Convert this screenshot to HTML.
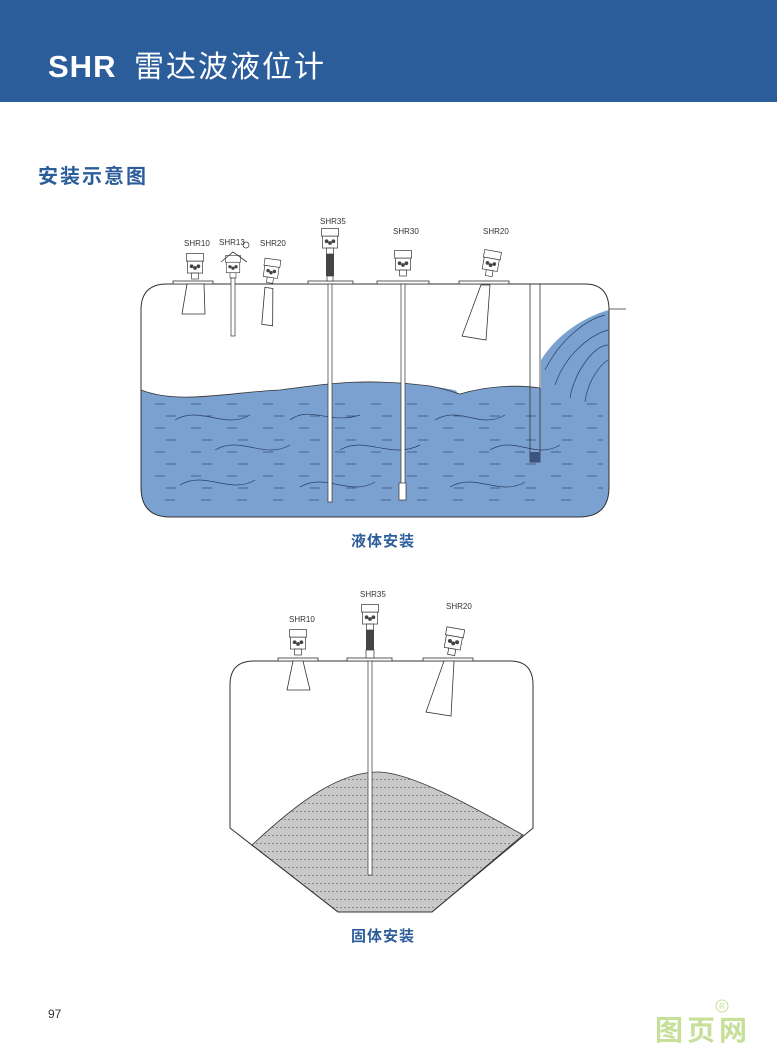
<!DOCTYPE html>
<html><head><meta charset="utf-8"><style>
html,body{margin:0;padding:0;background:#fff;}
body{width:777px;height:1061px;position:relative;overflow:hidden;font-family:"Liberation Sans","Noto Sans CJK SC",sans-serif;}
</style></head><body>
<svg width="777" height="1061" viewBox="0 0 777 1061" xmlns="http://www.w3.org/2000/svg" style="position:absolute;left:0;top:0">
<defs>
<pattern id="dots" width="4" height="8" patternUnits="userSpaceOnUse"><rect width="4" height="8" fill="#c9c9c9"/><rect x="0" y="3" width="2" height="1" fill="#8a8a8a"/></pattern>
<g id="sensor">
 <rect x="-10" y="-30" width="20" height="9" fill="#fff" stroke="#333" stroke-width="0.8"/>
 <rect x="-9" y="-21" width="18" height="14" fill="#fff" stroke="#333" stroke-width="0.8"/>
 <circle cx="-4" cy="-15" r="2.2" fill="#444"/><circle cx="0" cy="-13" r="2.2" fill="#444"/><circle cx="4" cy="-15" r="2.2" fill="#444"/>
 <rect x="-4" y="-7" width="8" height="7" fill="#fff" stroke="#333" stroke-width="0.8"/>
</g>
</defs>
<rect x="0" y="0" width="777" height="102" fill="#2c5d9b"/>
<text x="48" y="77" font-family="Liberation Sans, sans-serif" font-weight="bold" font-size="31" fill="#fff" letter-spacing="1">SHR</text>
<text x="134" y="77" font-family="Liberation Sans, Noto Sans CJK SC, sans-serif" font-size="30" fill="#fff" letter-spacing="2">雷达波液位计</text>
<text x="38" y="183" font-family="Liberation Sans, Noto Sans CJK SC, sans-serif" font-weight="bold" font-size="20" fill="#2c5d9b" letter-spacing="2">安装示意图</text>

<!-- Tank 1 liquid -->
<path d="M141 390 C180 405 230 392 280 390 C320 385 360 377 430 386 C470 392 450 390 460 394 C490 385 520 385 540 388 C560 392 590 384 609 388 L609 487 Q609 517 579 517 L170 517 Q141 517 141 487 Z" fill="#7ba1d0"/>
<path d="M541 360 C560 330 590 315 609 310 L609 392 C590 386 560 392 541 392 Z" fill="#7ba1d0"/>
<path d="M141 390 C180 405 230 392 280 390 C320 385 360 377 430 386 C450 390 455 393 460 394 C490 385 520 385 540 388" fill="none" stroke="#333" stroke-width="0.8"/>
<g stroke="#2a3f66" stroke-width="0.7" fill="none">
<path d="M175 420 C200 405 225 430 250 415"/><path d="M290 420 C310 405 330 425 360 415"/><path d="M435 420 C460 405 480 430 505 415"/>
<path d="M215 450 C240 435 265 460 290 445"/><path d="M340 450 C365 435 390 460 420 445"/><path d="M490 450 C515 435 535 460 560 445"/>
<path d="M180 485 C205 470 230 495 255 480"/><path d="M300 487 C325 472 350 497 375 482"/><path d="M450 487 C475 472 500 497 525 482"/>
<path d="M545 370 C560 340 585 320 605 315"/><path d="M555 385 C565 355 590 335 608 330"/><path d="M570 398 C575 370 595 345 608 345"/><path d="M585 402 C588 380 600 365 608 360"/>
</g>
<g stroke="#3a4f74" stroke-width="0.8">
<path d="M155 404h450" stroke-dasharray="10 26"/>
<path d="M148 416h455" stroke-dasharray="10 26" stroke-dashoffset="-18"/>
<path d="M155 428h450" stroke-dasharray="10 26"/>
<path d="M148 440h455" stroke-dasharray="10 26" stroke-dashoffset="-18"/>
<path d="M155 452h450" stroke-dasharray="10 26"/>
<path d="M148 464h455" stroke-dasharray="10 26" stroke-dashoffset="-18"/>
<path d="M155 476h450" stroke-dasharray="10 26"/>
<path d="M148 488h455" stroke-dasharray="10 26" stroke-dashoffset="-18"/>
<path d="M165 500h430" stroke-dasharray="10 26"/>
</g>
<!-- tank 1 outline -->
<path d="M141 390 L141 310 Q141 284 167 284 L585 284 Q609 284 609 310 L609 487 Q609 517 579 517 L170 517 Q141 517 141 487 Z" fill="none" stroke="#333" stroke-width="1"/>
<line x1="609" y1="309" x2="626" y2="309" stroke="#333" stroke-width="0.8"/>
<rect x="530" y="284" width="10" height="178" fill="none" stroke="#333" stroke-width="0.8"/>
<rect x="530" y="452" width="10" height="10" fill="#3c5580"/>
<g fill="#fff" stroke="#333" stroke-width="0.8">
<rect x="173" y="281" width="40" height="3"/><rect x="308" y="281" width="45" height="3"/><rect x="377" y="281" width="52" height="3"/><rect x="459" y="281" width="50" height="3"/>
</g>
<use href="#sensor" transform="translate(195 279) scale(0.85)"/>
<path d="M187 284 L195 284 L204 284 L205 314 L182 314 Z" fill="#fff" stroke="#333" stroke-width="0.8"/>
<use href="#sensor" transform="translate(233 278) scale(0.75)"/>
<path d="M221 262 L233 252 L247 262" fill="none" stroke="#333" stroke-width="0.8"/>
<circle cx="246" cy="245" r="3" fill="none" stroke="#333" stroke-width="0.7"/>
<rect x="231" y="278" width="4" height="58" fill="#fff" stroke="#333" stroke-width="0.7"/>
<g transform="rotate(8 270 280)"><use href="#sensor" transform="translate(270 283) scale(0.8)"/>
<path d="M266 288 L274 288 L279 325 L268 325 Z" fill="#fff" stroke="#333" stroke-width="0.8"/></g>
<use href="#sensor" transform="translate(330 254) scale(0.85)"/>
<rect x="326" y="254" width="8" height="22" fill="#444"/>
<rect x="327" y="276" width="6" height="5" fill="#fff" stroke="#333" stroke-width="0.7"/>
<rect x="328" y="284" width="4" height="218" fill="#fff" stroke="#333" stroke-width="0.7"/>
<use href="#sensor" transform="translate(403 276) scale(0.85)"/>
<rect x="401" y="284" width="4" height="200" fill="#fff" stroke="#333" stroke-width="0.7"/>
<rect x="399" y="483" width="7" height="17" fill="#fff" stroke="#333" stroke-width="0.7"/>
<g transform="rotate(10 488 280)"><use href="#sensor" transform="translate(488 276) scale(0.85)"/></g>
<path d="M481 285 L490 285 L486 340 L462 336 Z" fill="#fff" stroke="#333" stroke-width="0.8"/>
<g font-family="Liberation Sans, sans-serif" font-size="8" fill="#333">
<text x="184" y="246">SHR10</text><text x="219" y="245">SHR13</text><text x="260" y="246">SHR20</text><text x="320" y="224">SHR35</text><text x="393" y="234">SHR30</text><text x="483" y="234">SHR20</text>
</g>
<text x="383" y="546" text-anchor="middle" font-family="Liberation Sans, Noto Sans CJK SC, sans-serif" font-weight="bold" font-size="15" fill="#2c5d9b" letter-spacing="1">液体安装</text>

<!-- Tank 2 -->
<path d="M252 845 C300 800 340 772 378 772 C410 772 470 805 523 835 L432 912 L338 912 Z" fill="url(#dots)" stroke="#333" stroke-width="0.8"/>
<path d="M230 828 L230 685 Q230 661 254 661 L510 661 Q533 661 533 685 L533 828 L432 912 L338 912 Z" fill="none" stroke="#333" stroke-width="1"/>
<g fill="#fff" stroke="#333" stroke-width="0.8">
<rect x="278" y="658" width="40" height="3"/><rect x="347" y="658" width="45" height="3"/><rect x="423" y="658" width="50" height="3"/>
</g>
<use href="#sensor" transform="translate(298 655) scale(0.85)"/>
<path d="M293 661 L303 661 L310 690 L287 690 Z" fill="#fff" stroke="#333" stroke-width="0.8"/>
<use href="#sensor" transform="translate(370 630) scale(0.85)"/>
<rect x="366" y="630" width="8" height="20" fill="#444"/>
<rect x="366" y="650" width="8" height="8" fill="#fff" stroke="#333" stroke-width="0.7"/>
<rect x="368" y="661" width="4" height="214" fill="#fff" stroke="#333" stroke-width="0.7"/>
<g transform="rotate(10 452 650)"><use href="#sensor" transform="translate(452 655) scale(0.9)"/></g>
<path d="M444 661 L454 661 L451 716 L426 712 Z" fill="#fff" stroke="#333" stroke-width="0.8"/>
<g font-family="Liberation Sans, sans-serif" font-size="8" fill="#333">
<text x="289" y="622">SHR10</text><text x="360" y="597">SHR35</text><text x="446" y="609">SHR20</text>
</g>
<text x="383" y="941" text-anchor="middle" font-family="Liberation Sans, Noto Sans CJK SC, sans-serif" font-weight="bold" font-size="15" fill="#2c5d9b" letter-spacing="1">固体安装</text>

<text x="48" y="1018" font-family="Liberation Sans, sans-serif" font-size="12" fill="#333">97</text>
<text x="655" y="1040" font-family="Liberation Sans, Noto Sans CJK SC, sans-serif" font-weight="bold" font-size="28" fill="#c6e09a" letter-spacing="4">图页网</text>
<circle cx="722" cy="1006" r="6" fill="none" stroke="#c6e09a" stroke-width="1"/>
<text x="722" y="1009" text-anchor="middle" font-family="Liberation Sans, sans-serif" font-size="8" fill="#c6e09a">R</text>
</svg>
</body></html>
